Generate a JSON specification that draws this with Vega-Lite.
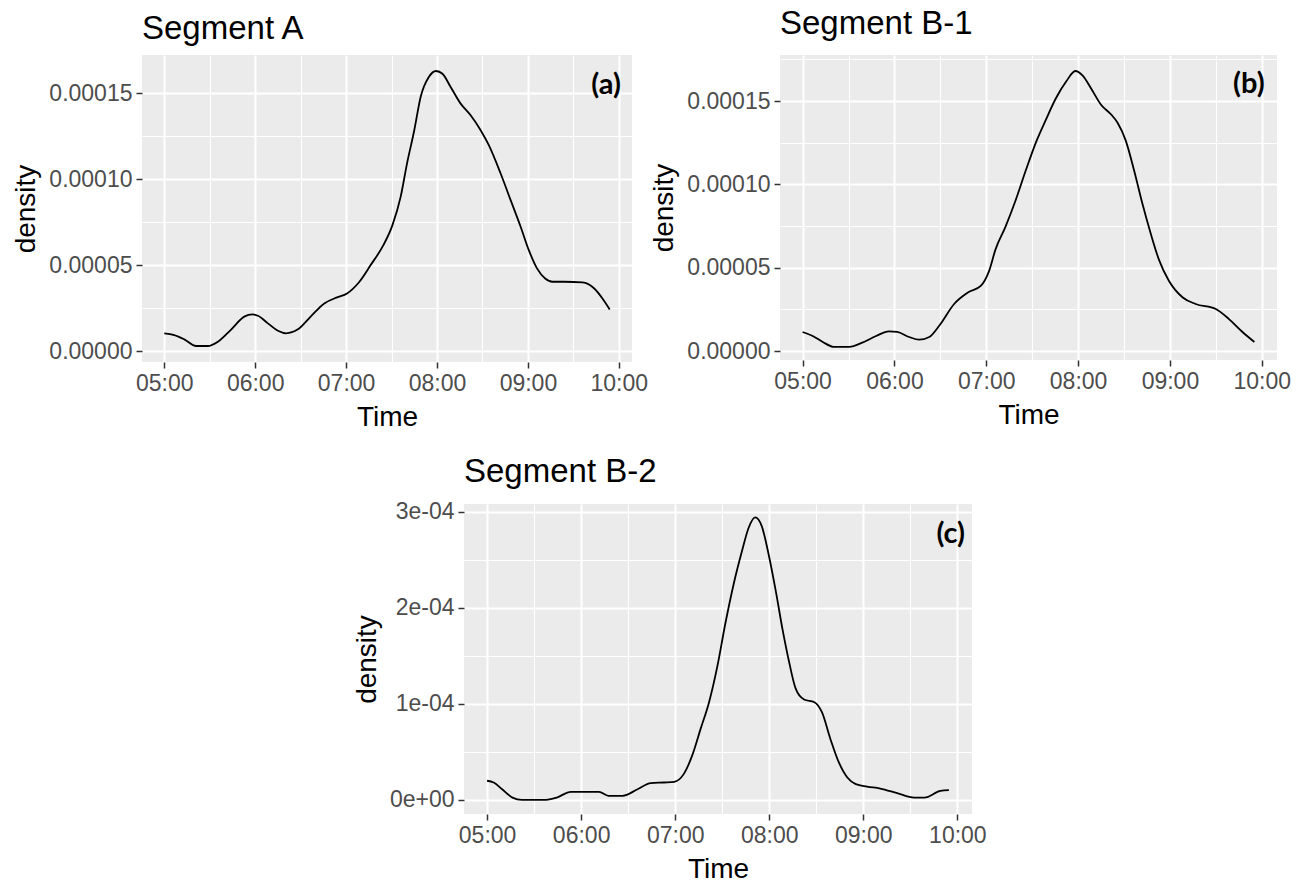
{
  "$schema": "https://vega.github.io/schema/vega-lite/v6.json",
  "background": "white",
  "padding": {"left": 12, "top": 8, "right": 5, "bottom": 2},
  "config": {
    "view": {"fill": "#EBEBEB", "stroke": null},
    "font": "Liberation Sans",
    "axis": {
      "labelFont": "Liberation Sans", "labelFontSize": 23, "labelColor": "#4D4D4D",
      "titleFont": "Liberation Sans", "titleFontSize": 28, "titleFontWeight": "normal", "titleColor": "#000000",
      "tickColor": "#333333", "tickSize": 6, "tickWidth": 1.5, "domain": false, "grid": true,
      "gridColor": "#FFFFFF", "gridWidth": 2, "gridOpacity": 1, "labelPadding": 4, "titlePadding": 8
    },
    "title": {"font": "Liberation Sans", "fontSize": 33, "fontWeight": "normal", "color": "#000000", "anchor": "start", "frame": "group", "offset": 12},
    "line": {"color": "#000000", "strokeWidth": 1.8, "interpolate": "monotone"}
  },
  "datasets": {
    "a": [
      {"t": 5.00, "d": 0.0000103}, {"t": 5.11, "d": 0.0000093}, {"t": 5.22, "d": 0.0000068}, {"t": 5.35, "d": 0.0000029},
      {"t": 5.48, "d": 0.0000029}, {"t": 5.59, "d": 0.0000054}, {"t": 5.73, "d": 0.0000122}, {"t": 5.88, "d": 0.0000200},
      {"t": 5.97, "d": 0.0000213}, {"t": 6.03, "d": 0.0000205}, {"t": 6.14, "d": 0.0000161}, {"t": 6.25, "d": 0.0000118},
      {"t": 6.34, "d": 0.0000103}, {"t": 6.47, "d": 0.0000126}, {"t": 6.61, "d": 0.0000200}, {"t": 6.76, "d": 0.0000277},
      {"t": 6.90, "d": 0.0000312}, {"t": 7.01, "d": 0.0000335}, {"t": 7.14, "d": 0.0000399}, {"t": 7.27, "d": 0.0000500},
      {"t": 7.41, "d": 0.0000616}, {"t": 7.51, "d": 0.0000733}, {"t": 7.60, "d": 0.0000897}, {"t": 7.67, "d": 0.0001091},
      {"t": 7.75, "d": 0.0001285}, {"t": 7.82, "d": 0.0001479}, {"t": 7.91, "d": 0.0001595}, {"t": 7.99, "d": 0.0001630},
      {"t": 8.06, "d": 0.0001614}, {"t": 8.15, "d": 0.0001537}, {"t": 8.26, "d": 0.0001440}, {"t": 8.37, "d": 0.0001372},
      {"t": 8.48, "d": 0.0001285}, {"t": 8.57, "d": 0.0001198}, {"t": 8.70, "d": 0.0001033}, {"t": 8.81, "d": 0.0000878},
      {"t": 8.92, "d": 0.0000723}, {"t": 9.01, "d": 0.0000587}, {"t": 9.10, "d": 0.0000481}, {"t": 9.19, "d": 0.0000422},
      {"t": 9.27, "d": 0.0000403}, {"t": 9.40, "d": 0.0000403}, {"t": 9.60, "d": 0.0000399}, {"t": 9.73, "d": 0.0000364},
      {"t": 9.82, "d": 0.0000306}, {"t": 9.90, "d": 0.0000242}
    ],
    "b1": [
      {"t": 5.00, "d": 0.0000115}, {"t": 5.11, "d": 0.0000091}, {"t": 5.22, "d": 0.0000055}, {"t": 5.34, "d": 0.0000026},
      {"t": 5.51, "d": 0.0000026}, {"t": 5.65, "d": 0.0000051}, {"t": 5.80, "d": 0.0000091}, {"t": 5.94, "d": 0.0000119},
      {"t": 6.03, "d": 0.0000115}, {"t": 6.16, "d": 0.0000085}, {"t": 6.27, "d": 0.0000069}, {"t": 6.38, "d": 0.0000085},
      {"t": 6.49, "d": 0.0000154}, {"t": 6.65, "d": 0.0000283}, {"t": 6.80, "d": 0.0000352}, {"t": 6.94, "d": 0.0000391},
      {"t": 7.03, "d": 0.0000480}, {"t": 7.10, "d": 0.0000609}, {"t": 7.21, "d": 0.0000747}, {"t": 7.32, "d": 0.0000905},
      {"t": 7.43, "d": 0.0001083}, {"t": 7.54, "d": 0.0001251}, {"t": 7.65, "d": 0.0001389}, {"t": 7.76, "d": 0.0001518},
      {"t": 7.87, "d": 0.0001617}, {"t": 7.97, "d": 0.0001680}, {"t": 8.05, "d": 0.0001652}, {"t": 8.14, "d": 0.0001577},
      {"t": 8.25, "d": 0.0001478}, {"t": 8.36, "d": 0.0001419}, {"t": 8.43, "d": 0.0001370}, {"t": 8.52, "d": 0.0001261},
      {"t": 8.61, "d": 0.0001083}, {"t": 8.70, "d": 0.0000885}, {"t": 8.79, "d": 0.0000707}, {"t": 8.88, "d": 0.0000549},
      {"t": 8.99, "d": 0.0000421}, {"t": 9.14, "d": 0.0000322}, {"t": 9.28, "d": 0.0000283}, {"t": 9.50, "d": 0.0000253},
      {"t": 9.64, "d": 0.0000194}, {"t": 9.79, "d": 0.0000115}, {"t": 9.92, "d": 0.0000055}
    ],
    "b2": [
      {"t": 5.00, "d": 0.0000199}, {"t": 5.07, "d": 0.0000181}, {"t": 5.16, "d": 0.0000111}, {"t": 5.27, "d": 0.0000024},
      {"t": 5.37, "d": 0.0000000}, {"t": 5.60, "d": 0.0000000}, {"t": 5.74, "d": 0.0000024}, {"t": 5.89, "d": 0.0000084},
      {"t": 6.03, "d": 0.0000084}, {"t": 6.19, "d": 0.0000084}, {"t": 6.29, "d": 0.0000042}, {"t": 6.44, "d": 0.0000042},
      {"t": 6.60, "d": 0.0000111}, {"t": 6.74, "d": 0.0000174}, {"t": 6.88, "d": 0.0000181}, {"t": 6.99, "d": 0.0000188},
      {"t": 7.09, "d": 0.0000268}, {"t": 7.18, "d": 0.0000460}, {"t": 7.27, "d": 0.0000739}, {"t": 7.36, "d": 0.0001017},
      {"t": 7.45, "d": 0.0001400}, {"t": 7.53, "d": 0.0001820}, {"t": 7.62, "d": 0.0002240}, {"t": 7.71, "d": 0.0002590},
      {"t": 7.78, "d": 0.0002830}, {"t": 7.85, "d": 0.0002940}, {"t": 7.92, "d": 0.0002850}, {"t": 7.99, "d": 0.0002570},
      {"t": 8.07, "d": 0.0002170}, {"t": 8.14, "d": 0.0001780}, {"t": 8.21, "d": 0.0001440}, {"t": 8.28, "d": 0.0001160},
      {"t": 8.37, "d": 0.0001045}, {"t": 8.48, "d": 0.0001017}, {"t": 8.56, "d": 0.0000913}, {"t": 8.65, "d": 0.0000634},
      {"t": 8.74, "d": 0.0000390}, {"t": 8.83, "d": 0.0000233}, {"t": 8.92, "d": 0.0000164}, {"t": 9.04, "d": 0.0000139},
      {"t": 9.18, "d": 0.0000118}, {"t": 9.36, "d": 0.0000070}, {"t": 9.54, "d": 0.0000024}, {"t": 9.65, "d": 0.0000024},
      {"t": 9.82, "d": 0.0000094}, {"t": 9.91, "d": 0.0000101}
    ],
    "labels": [
      {"panel": "a", "label": "(a)", "t": 9.86, "d": 0.0001547},
      {"panel": "b1", "label": "(b)", "t": 9.86, "d": 0.0001605},
      {"panel": "b2", "label": "(c)", "t": 9.93, "d": 0.000277}
    ]
  },
  "vconcat": [
    {
      "hconcat": [
        {
          "width": 490, "height": 307,
          "title": {"text": "Segment A", "offset": 15, "dy": 6},
          "data": {"name": "a"},
          "layer": [
            {
              "mark": {"type": "line", "strokeOpacity": 0},
              "encoding": {
                "x": {"field": "t", "type": "quantitative", "scale": {"domain": [4.755, 10.145], "nice": false, "zero": false},
                      "axis": {"orient": "top", "values": [5.5, 6.5, 7.5, 8.5, 9.5], "labels": false, "ticks": false, "title": null, "grid": true, "gridWidth": 1.1}},
                "y": {"field": "d", "type": "quantitative", "scale": {"domain": [-0.0000064, 0.0001723], "nice": false, "zero": false},
                      "axis": {"orient": "right", "values": [0.000025, 0.000075, 0.000125], "labels": false, "ticks": false, "title": null, "grid": true, "gridWidth": 1.1}}
              }
            },
            {
              "mark": {"type": "line"},
              "encoding": {
                "x": {"field": "t", "type": "quantitative", "scale": {"domain": [4.755, 10.145], "nice": false, "zero": false},
                      "axis": {"orient": "bottom", "values": [5, 6, 7, 8, 9, 10], "grid": true, "labelExpr": "(datum.value < 10 ? '0' : '') + datum.value + ':00'", "title": "Time"}},
                "y": {"field": "d", "type": "quantitative", "scale": {"domain": [-0.0000064, 0.0001723], "nice": false, "zero": false},
                      "axis": {"orient": "left", "values": [0, 0.00005, 0.0001, 0.00015], "grid": true, "format": ".5f", "title": "density"}}
              }
            },
            {
              "data": {"name": "labels"},
              "transform": [{"filter": "datum.panel == 'a'"}],
              "mark": {"type": "text", "font": "Lato", "fontWeight": "bold", "fontSize": 29, "color": "#000000"},
              "encoding": {
                "x": {"field": "t", "type": "quantitative", "axis": null},
                "y": {"field": "d", "type": "quantitative", "axis": null},
                "text": {"field": "label"}
              }
            }
          ],
          "resolve": {"axis": {"x": "independent", "y": "independent"}}
        },
        {
          "width": 497, "height": 305,
          "title": {"text": "Segment B-1", "offset": 12, "dy": -2},
          "data": {"name": "b1"},
          "layer": [
            {
              "mark": {"type": "line", "strokeOpacity": 0},
              "encoding": {
                "x": {"field": "t", "type": "quantitative", "scale": {"domain": [4.754, 10.166], "nice": false, "zero": false},
                      "axis": {"orient": "top", "values": [5.5, 6.5, 7.5, 8.5, 9.5], "labels": false, "ticks": false, "title": null, "grid": true, "gridWidth": 1.1}},
                "y": {"field": "d", "type": "quantitative", "scale": {"domain": [-0.0000053, 0.0001776], "nice": false, "zero": false},
                      "axis": {"orient": "right", "values": [0.000025, 0.000075, 0.000125, 0.000175], "labels": false, "ticks": false, "title": null, "grid": true, "gridWidth": 1.1}}
              }
            },
            {
              "mark": {"type": "line"},
              "encoding": {
                "x": {"field": "t", "type": "quantitative", "scale": {"domain": [4.754, 10.166], "nice": false, "zero": false},
                      "axis": {"orient": "bottom", "values": [5, 6, 7, 8, 9, 10], "grid": true, "labelExpr": "(datum.value < 10 ? '0' : '') + datum.value + ':00'", "title": "Time"}},
                "y": {"field": "d", "type": "quantitative", "scale": {"domain": [-0.0000053, 0.0001776], "nice": false, "zero": false},
                      "axis": {"orient": "left", "values": [0, 0.00005, 0.0001, 0.00015], "grid": true, "format": ".5f", "title": "density"}}
              }
            },
            {
              "data": {"name": "labels"},
              "transform": [{"filter": "datum.panel == 'b1'"}],
              "mark": {"type": "text", "font": "Lato", "fontWeight": "bold", "fontSize": 29, "color": "#000000"},
              "encoding": {
                "x": {"field": "t", "type": "quantitative", "axis": null},
                "y": {"field": "d", "type": "quantitative", "axis": null},
                "text": {"field": "label"}
              }
            }
          ],
          "resolve": {"axis": {"x": "independent", "y": "independent"}}
        }
      ],
      "spacing": 2,
      "align": "none"
    },
    {
      "hconcat": [
        {
          "width": 203, "height": 300,
          "data": {"values": []},
          "mark": {"type": "point", "opacity": 0},
          "view": {"fill": null, "stroke": null}
        },
        {
          "width": 508, "height": 310,
          "title": "Segment B-2",
          "data": {"name": "b2"},
          "layer": [
            {
              "mark": {"type": "line", "strokeOpacity": 0},
              "encoding": {
                "x": {"field": "t", "type": "quantitative", "scale": {"domain": [4.7545, 10.1555], "nice": false, "zero": false},
                      "axis": {"orient": "top", "values": [5.5, 6.5, 7.5, 8.5, 9.5], "labels": false, "ticks": false, "title": null, "grid": true, "gridWidth": 1.1}},
                "y": {"field": "d", "type": "quantitative", "scale": {"domain": [-0.0000147, 0.000308], "nice": false, "zero": false},
                      "axis": {"orient": "right", "values": [0.00005, 0.00015, 0.00025], "labels": false, "ticks": false, "title": null, "grid": true, "gridWidth": 1.1}}
              }
            },
            {
              "mark": {"type": "line"},
              "encoding": {
                "x": {"field": "t", "type": "quantitative", "scale": {"domain": [4.7545, 10.1555], "nice": false, "zero": false},
                      "axis": {"orient": "bottom", "values": [5, 6, 7, 8, 9, 10], "grid": true, "labelExpr": "(datum.value < 10 ? '0' : '') + datum.value + ':00'", "title": "Time"}},
                "y": {"field": "d", "type": "quantitative", "scale": {"domain": [-0.0000147, 0.000308], "nice": false, "zero": false},
                      "axis": {"orient": "left", "values": [0, 0.0001, 0.0002, 0.0003], "grid": true, "labelExpr": "['0e+00','1e-04','2e-04','3e-04'][round(datum.value * 10000)]", "title": "density"}}
              }
            },
            {
              "data": {"name": "labels"},
              "transform": [{"filter": "datum.panel == 'b2'"}],
              "mark": {"type": "text", "font": "Lato", "fontWeight": "bold", "fontSize": 29, "color": "#000000"},
              "encoding": {
                "x": {"field": "t", "type": "quantitative", "axis": null},
                "y": {"field": "d", "type": "quantitative", "axis": null},
                "text": {"field": "label"}
              }
            }
          ],
          "resolve": {"axis": {"x": "independent", "y": "independent"}}
        }
      ],
      "spacing": 8,
      "align": "none"
    }
  ],
  "spacing": 24,
  "center": false
}
